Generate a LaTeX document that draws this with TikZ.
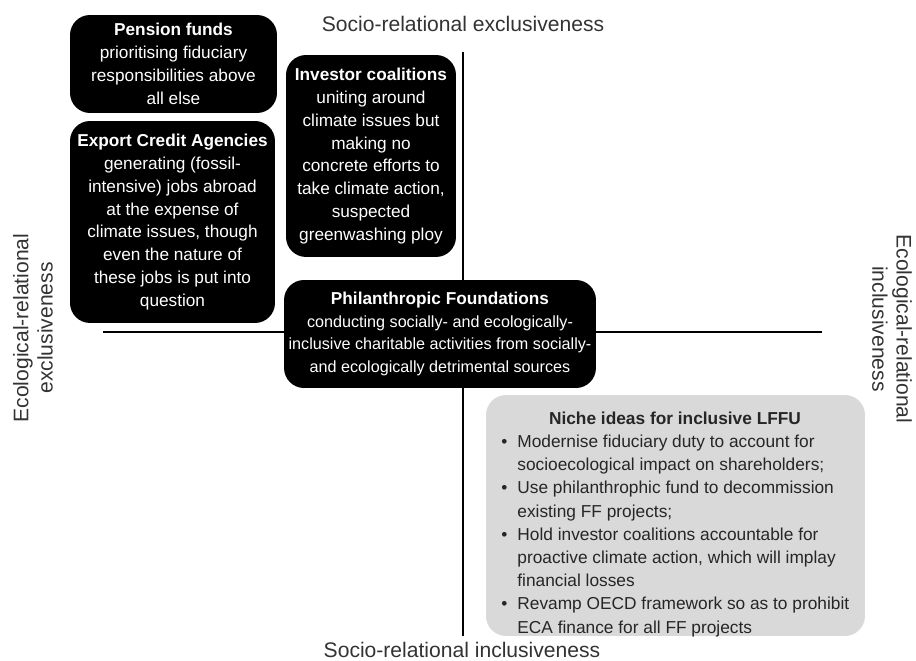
\documentclass[tikz,border=0pt]{standalone}
\usepackage{fontspec}
\setmainfont{Liberation Sans}
\begin{document}
\begin{tikzpicture}[x=0.02cm,y=-0.02cm,
  actor/.style={fill=black,text=white,rounded corners=0.4cm,align=center,
    font=\fontsize{9.8}{13}\selectfont,inner sep=0pt},
  niche/.style={fill=black!15,text=black!85,rounded corners=0.4cm,
    font=\fontsize{9.85}{13.2}\selectfont,inner sep=0pt},
  axis/.style={line width=1.1pt,black},
  axislabel/.style={text=black!80,font=\fontsize{12}{13.8}\selectfont,align=center}]
\useasboundingbox (0,0) rectangle (916,661);

% axes
\coordinate (vtop) at (463,52);
\coordinate (vbot) at (463,636);
\coordinate (hleft) at (103,332);
\coordinate (hright) at (822,332);
\draw[axis] (vtop) -- (vbot);
\draw[axis] (hleft) -- (hright);

% axis labels
\node[axislabel] (ltop) at (463,24) {Socio-relational exclusiveness};
\node[axislabel] (lbot) at (462,650) {Socio-relational inclusiveness};
\node[axislabel,rotate=90] (lleft) at (33,328) {Ecological-relational\\exclusiveness};
\node[axislabel,rotate=-90] (lright) at (892,329) {Ecological-relational\\inclusiveness};

% actors
\node[actor,minimum width=4.14cm,minimum height=1.96cm] (pension) at (173.5,64)
  {\textbf{Pension funds}\\prioritising fiduciary\\responsibilities above\\all else};
\node[actor,minimum width=4.1cm,minimum height=4.04cm] (eca) at (172.5,222)
  {\textbf{Export Credit Agencies}\\generating (fossil-\\intensive) jobs abroad\\at the expense of\\climate issues, though\\even the nature of\\these jobs is put into\\question};
\node[actor,minimum width=3.4cm,minimum height=4.04cm] (investor) at (371,156)
  {\textbf{Investor coalitions}\\uniting around\\climate issues but\\making no\\concrete efforts to\\take climate action,\\suspected\\greenwashing ploy};
\node[actor,font=\fontsize{9.2}{13}\selectfont,minimum width=6.24cm,minimum height=2.16cm] (phil) at (440,334)
  {\textbf{\fontsize{9.8}{13}\selectfont Philanthropic Foundations}\\conducting socially- and ecologically-\\inclusive charitable activities from socially-\\and ecologically detrimental sources};

% niche ideas
\node[niche,minimum width=7.58cm,minimum height=4.82cm] (nichebox) at (675.5,515.5) {};
\node[niche,fill=none] (nichetitle) at (675,418) {\textbf{Niche ideas for inclusive LFFU}};
\node[niche,fill=none,anchor=north west] (nichelist) at (501,431)
  {\begin{tabular}{@{}l@{\hspace{0.2cm}}l@{}}
   \textbullet & Modernise fiduciary duty to account for\\
               & socioecological impact on shareholders;\\
   \textbullet & Use philanthrophic fund to decommission\\
               & existing FF projects;\\
   \textbullet & Hold investor coalitions accountable for\\
               & proactive climate action, which will implay\\
               & financial losses\\
   \textbullet & Revamp OECD framework so as to prohibit\\
               & ECA finance for all FF projects
   \end{tabular}};
\end{tikzpicture}
\end{document}
